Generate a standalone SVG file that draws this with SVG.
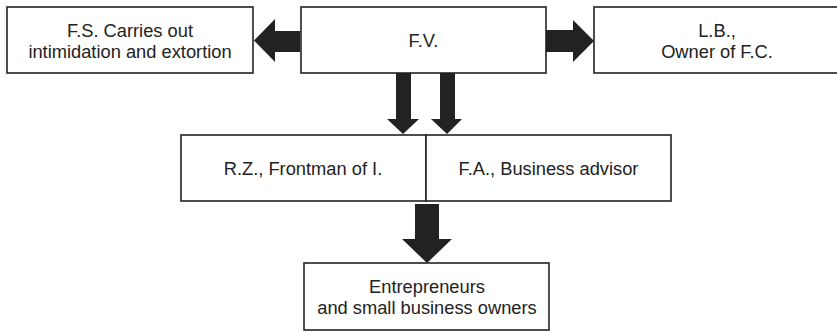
<svg xmlns="http://www.w3.org/2000/svg" width="837" height="332" viewBox="0 0 837 332">
<style>
.box{fill:#fff;stroke:#222;stroke-width:1.6}
.t{font-family:"Liberation Sans",Arial,sans-serif;font-size:18.3px;fill:#222;text-anchor:middle}
.arr{fill:#222}
</style>
<rect width="837" height="332" fill="#fff"/>
<g id="connectors">
<polygon class="arr" points="300,31 275,31 275,19 254,40.5 275,62 275,52 300,52"/>
<polygon class="arr" points="546,30 573,30 573,20 594,41 573,62 573,52 546,52"/>
<polygon class="arr" points="396,73 411,73 411,119 419,119 403,134 387,119 396,119"/>
<polygon class="arr" points="440,73 455,73 455,119 462,119 447,134 431,119 440,119"/>
<polygon class="arr" points="415,204 439,204 439,239 452,239 427,263 402,239 415,239"/>
</g>
<g id="fs">
<rect class="box" x="7" y="7" width="246" height="66"/>
<text class="t" x="130" y="36.5">F.S. Carries out</text>
<text class="t" x="130" y="57.5">intimidation and extortion</text>
</g>
<g id="fv">
<rect class="box" x="301" y="7" width="245" height="66"/>
<text class="t" x="423.5" y="46.5">F.V.</text>
</g>
<g id="lb">
<rect class="box" x="594" y="7" width="248" height="66"/>
<text class="t" x="717" y="36.5">L.B.,</text>
<text class="t" x="717" y="57.5">Owner of F.C.</text>
</g>
<g id="rz">
<rect class="box" x="181" y="135" width="245" height="66"/>
<text class="t" x="303" y="174.5">R.Z., Frontman of I.</text>
</g>
<g id="fa">
<rect class="box" x="426" y="135" width="245" height="66"/>
<text class="t" x="548.5" y="174.5">F.A., Business advisor</text>
</g>
<g id="ent">
<rect class="box" x="304" y="263" width="245" height="67"/>
<text class="t" x="427" y="293">Entrepreneurs</text>
<text class="t" x="427" y="314">and small business owners</text>
</g>
</svg>
